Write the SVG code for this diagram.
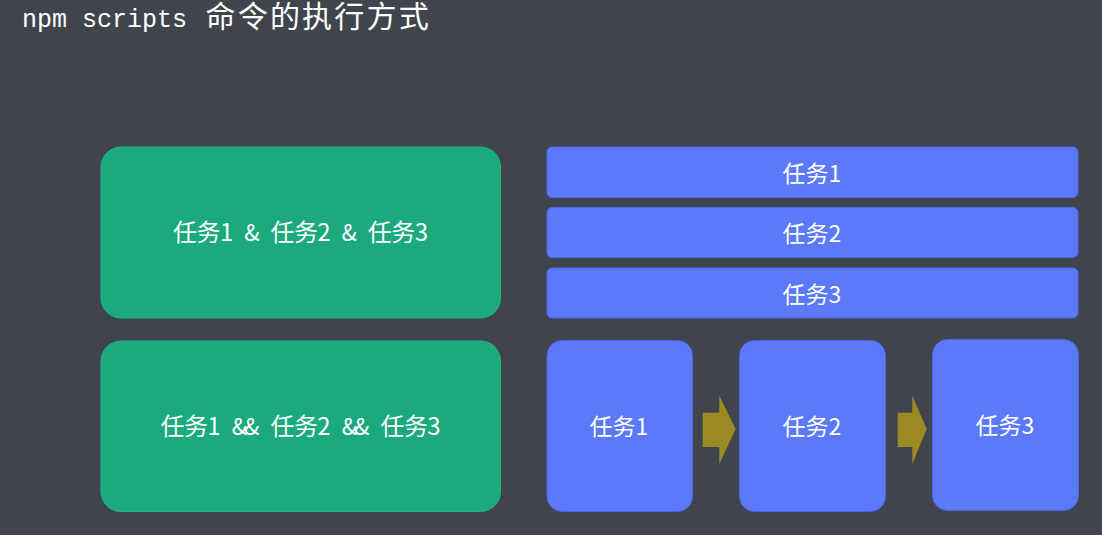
<svg xmlns="http://www.w3.org/2000/svg" width="1102" height="535" viewBox="0 0 1102 535">
<style>
.bg{fill:#40444c}
.green{fill:#1baa7e;stroke:#22b483;stroke-width:1}
.blue{fill:#5b79f9;stroke:#4b68ea;stroke-width:1}
.arrow{fill:#9c8b22}
.t{fill:#ffffff;font-family:"Noto Sans CJK SC","Noto Sans",sans-serif;font-size:23px;text-anchor:middle}
.m{fill:#ffffff;font-family:"Noto Sans CJK SC","Noto Sans",sans-serif;font-size:24px;text-anchor:middle}
.amp{font-size:22.5px}
</style>
<rect class="bg" x="0" y="0" width="1102" height="535"/>
<g id="title">
<text y="27" fill="#ffffff" font-family="'Liberation Mono','Noto Sans CJK SC',monospace" font-size="25px"><tspan x="22">npm scripts </tspan><tspan x="205.5 237.7 269.9 302.1 334.3 366.5 398.7" font-family="'Noto Sans CJK SC',sans-serif" font-size="30px">命令的执行方式</tspan></text>
</g>
<g id="parallel">
<rect class="green" x="101" y="147" width="399.5" height="171" rx="20"/>
<text class="m" y="241"><tspan x="185.05 208.55 226.6 239.2">任务1 </tspan><tspan class="amp" x="251.8">&amp;</tspan><tspan x="264.4 282.45 305.95 324 336.6"> 任务2 </tspan><tspan class="amp" x="349.2">&amp;</tspan><tspan x="361.8 379.85 403.35 421.4"> 任务3</tspan></text>
</g>
<g id="serial">
<rect class="green" x="101" y="341" width="399.5" height="170.5" rx="20"/>
<text class="m" y="435"><tspan x="172.45 195.95 214 226.6">任务1 </tspan><tspan class="amp" x="239.4 251.6">&amp;&amp;</tspan><tspan x="264.4 282.45 305.95 324 336.6"> 任务2 </tspan><tspan class="amp" x="349.4 361.6">&amp;&amp;</tspan><tspan x="374.4 392.45 415.95 434"> 任务3</tspan></text>
</g>
<g id="bar1">
<rect class="blue" x="547" y="147" width="531" height="50.5" rx="5"/>
<text class="t" x="812" y="181.5">任务1</text>
</g>
<g id="bar2">
<rect class="blue" x="547" y="207.5" width="531" height="50" rx="5"/>
<text class="t" x="812" y="242">任务2</text>
</g>
<g id="bar3">
<rect class="blue" x="547" y="268" width="531" height="50" rx="5"/>
<text class="t" x="812" y="302.5">任务3</text>
</g>
<g id="step1">
<rect class="blue" x="547" y="340.5" width="145.5" height="171" rx="15"/>
<text class="t" x="619" y="435">任务1</text>
</g>
<g id="step2">
<rect class="blue" x="739.5" y="340.5" width="146" height="171" rx="15"/>
<text class="t" x="812" y="435">任务2</text>
</g>
<g id="step3">
<rect class="blue" x="932.5" y="339.5" width="146" height="171" rx="15"/>
<text class="t" x="1005" y="434">任务3</text>
</g>
<g id="connectors">
<polygon class="arrow" points="702.7,412.7 719.3,412.7 719.3,395.7 735.7,429 719.3,464 719.3,447 702.7,447"/>
<polygon class="arrow" points="897.7,412.7 912.3,412.7 912.3,395.7 926.7,429 912.3,464 912.3,447 897.7,447"/>
</g>
</svg>
